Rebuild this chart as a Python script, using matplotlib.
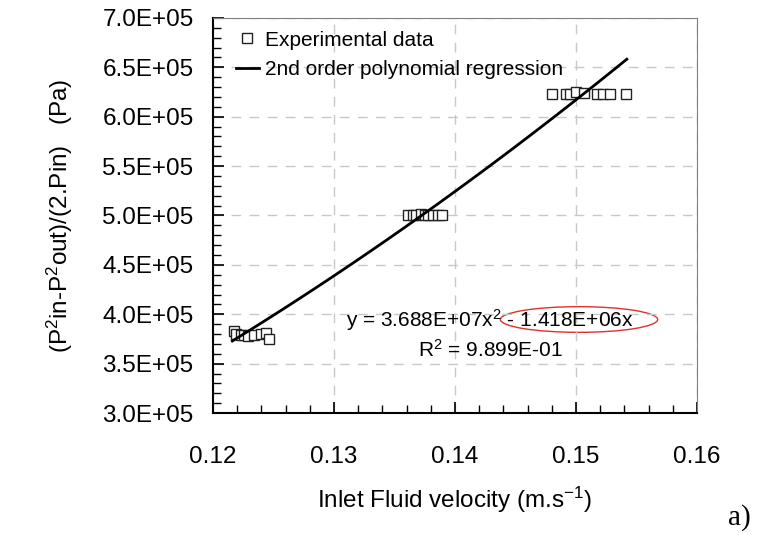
import matplotlib
matplotlib.use('Agg')
import matplotlib.pyplot as plt
from matplotlib.patches import Ellipse
from matplotlib.ticker import MultipleLocator, FuncFormatter
import numpy as np

matplotlib.rc('font', family='Liberation Sans', size=17.5)
matplotlib.rc('mathtext', fontset='custom', rm='Liberation Sans', it='Liberation Sans')

# experimental points (velocity m/s, pressure term Pa)
vel = [0.1217, 0.1219, 0.1223, 0.1226, 0.1229, 0.1234, 0.1240, 0.1244, 0.1246,
       0.1361, 0.1365, 0.1368, 0.1372, 0.1375, 0.1378, 0.1382, 0.1386, 0.1389,
       0.1480, 0.1492, 0.1495, 0.1500, 0.1507, 0.1517, 0.1522, 0.1528, 0.1541]
dp = [3.83e5, 3.80e5, 3.79e5, 3.79e5, 3.78e5, 3.79e5, 3.80e5, 3.81e5, 3.75e5,
      5.01e5, 5.01e5, 5.01e5, 5.02e5, 5.01e5, 5.01e5, 5.01e5, 5.01e5, 5.01e5,
      6.23e5, 6.23e5, 6.23e5, 6.25e5, 6.24e5, 6.23e5, 6.23e5, 6.23e5, 6.23e5]

# regression y = a*x^2 + b*x
coef = [3.688e7, -1.418e6, 0.0]
fit_range = [0.1216, 0.1542]

fig = plt.figure(figsize=(7.62, 5.35), dpi=100)
ax = fig.add_axes([0.2795, 0.228, 0.6352, 0.7384])

xf = np.linspace(fit_range[0], fit_range[1], 100)
ax.plot(vel, dp, 's', mfc='white', mec='#222222', ms=7.5, mew=1.0,
        label='Experimental data', zorder=3)
ax.plot(xf, np.polyval(coef, xf), '-', color='black', lw=2,
        label='2nd order polynomial regression', zorder=4)

ax.set_xlim(0.12, 0.16)
ax.set_ylim(3.0e5, 7.0e5)
ax.xaxis.set_major_locator(MultipleLocator(0.01))
ax.xaxis.set_minor_locator(MultipleLocator(0.002))
ax.yaxis.set_major_locator(MultipleLocator(0.5e5))
ax.yaxis.set_minor_locator(MultipleLocator(0.1e5))
ax.xaxis.set_major_formatter(FuncFormatter(lambda v, p: '%.2f' % v))
ax.yaxis.set_major_formatter(FuncFormatter(lambda v, p: '%.1E' % v))
ax.tick_params(which='both', direction='in', top=False, right=False)
ax.tick_params(which='major', length=8, width=1.2)
ax.tick_params(which='minor', length=6, width=1.0)
ax.tick_params(axis='y', which='major', pad=14)
ax.tick_params(axis='x', which='major', pad=24)
ax.grid(True, which='major', color='#c8c8c8', linestyle=(0, (7, 6)), lw=1)

for s in ['top', 'right']:
    ax.spines[s].set_color('#808080')
for s in ['left', 'bottom']:
    ax.spines[s].set_color('black')
    ax.spines[s].set_linewidth(1.5)

ax.set_xlabel('Inlet Fluid velocity (m.s$^{-1}$)', labelpad=12)
ax.set_ylabel('(P$^2$in-P$^2$out)/(2.Pin)   (Pa)', labelpad=20)

ax.legend(loc='upper left', frameon=False, fontsize=15, handlelength=1.1,
          handletextpad=0.3, borderpad=0, borderaxespad=0,
          bbox_to_anchor=(0.0475, 0.968), labelspacing=0.5)

ax.text(0.1429, 3.942e5, 'y = 3.688E+07x$^2$ - 1.418E+06x', ha='center',
        va='center', fontsize=15)
ax.text(0.1429, 3.638e5, 'R$^2$ = 9.899E-01', ha='center', va='center',
        fontsize=15)
ax.add_patch(Ellipse((0.15025, 3.947e5), 0.0130, 2.6e4, fill=False,
                     edgecolor='#e03030', lw=1))

fig.text(0.955, 0.019, 'a)', family='Liberation Serif', fontsize=21,
         ha='left', va='baseline')

plt.savefig('out.png', format='png')
